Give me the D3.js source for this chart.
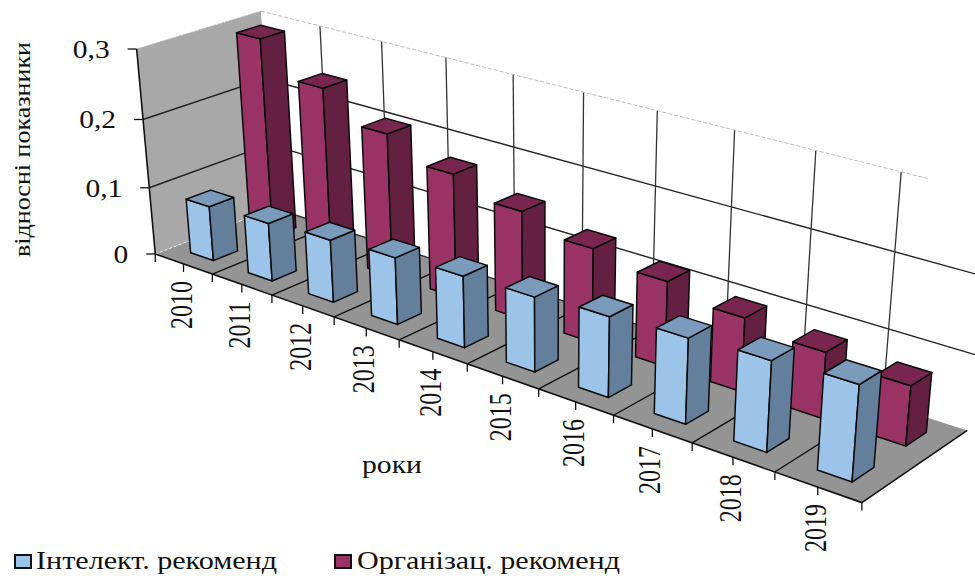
<!DOCTYPE html>
<html>
<head>
<meta charset="utf-8">
<script src="https://cdn.jsdelivr.net/npm/d3@7"></script>
<style>
  html, body { margin: 0; background: #fff; }
  text { font-family: "Liberation Serif", serif; fill: #111; }
</style>
</head>
<body>
<div id="chart"></div>
<script>
const years = [2010, 2011, 2012, 2013, 2014, 2015, 2016, 2017, 2018, 2019];
const seriesNames = ["Інтелект. рекоменд", "Організац. рекоменд"];
const intellect = [0.081, 0.085, 0.09, 0.095, 0.1, 0.103, 0.109, 0.114, 0.119, 0.124];
const organiz = [0.294, 0.247, 0.207, 0.177, 0.153, 0.131, 0.117, 0.1, 0.088, 0.079];
const yTicks = [0, 0.1, 0.2, 0.3];

const blue = { front: "#9cc3e8", side: "#647f9b", top: "#7b9bbd" };
const wine = { front: "#993366", side: "#632040", top: "#782650" };

// frame of the 3d box as seen in the picture: [category pos, depth, value, px, py]
const anchors = [
  [0, 0, 0, 157, 254], [1, 0, 0, 213, 275], [2, 0, 0, 273, 295], [3, 0, 0, 334, 316],
  [4, 0, 0, 400, 340], [5, 0, 0, 467, 364], [6, 0, 0, 538, 389], [7, 0, 0, 613, 417],
  [8, 0, 0, 692, 443], [9, 0, 0, 774, 472], [10, 0, 0, 862, 503],
  [0, 1, 0, 272, 209], [10, 1, 0, 968, 430],
  [0, 1, 0.3, 262, 11], [1, 1, 0.3, 321, 26], [2, 1, 0.3, 382, 42], [3, 1, 0.3, 446, 57],
  [4, 1, 0.3, 513, 75], [5, 1, 0.3, 583, 93], [6, 1, 0.3, 657, 112], [7, 1, 0.3, 734, 130],
  [8, 1, 0.3, 816, 151], [9, 1, 0.3, 901, 172],
  [0, 1, 0.2, 265, 79], [4, 1, 0.2, 513, 147], [5, 1, 0.2, 583, 166], [6, 1, 0.2, 656, 186],
  [7, 1, 0.2, 732, 207], [8, 1, 0.2, 812, 228], [9, 1, 0.2, 895, 252],
  [9, 1, 0.1, 888, 329], [8, 1, 0.1, 807, 301], [0, 1, 0.1, 268, 144],
  [0, 0, 0.1, 148, 187], [0, 0, 0.2, 144, 119], [0, 0, 0.3, 135, 48]
];

const width = 975, height = 576;

const x = d3.scaleBand().domain(years).range([0, 10]).paddingInner(0.6).paddingOuter(0.3);
const depth = d3.scaleBand().domain(seriesNames).range([0, 1]).paddingInner(0.6).paddingOuter(0.3);
const y = d3.scaleLinear().domain([0, 0.3]).range([0, 1]);

// fit the perspective matrix to the anchors (least squares)
function fitCamera(pts) {
  const rows = [], rhs = [];
  pts.forEach(([u, d, v, px, py]) => {
    const a = u / 10, b = d, c = y(v);
    rows.push([a, b, c, 1, 0, 0, 0, 0, -px * a, -px * b, -px * c]); rhs.push(px);
    rows.push([0, 0, 0, 0, a, b, c, 1, -py * a, -py * b, -py * c]); rhs.push(py);
  });
  const n = 11;
  const m = d3.range(n).map(i => d3.range(n + 1).map(j =>
    d3.sum(rows, (r, k) => r[i] * (j < n ? r[j] : rhs[k]))));
  for (let i = 0; i < n; i++) {
    let best = i;
    for (let k = i + 1; k < n; k++) if (Math.abs(m[k][i]) > Math.abs(m[best][i])) best = k;
    [m[i], m[best]] = [m[best], m[i]];
    for (let k = 0; k < n; k++) {
      if (k === i) continue;
      const f = m[k][i] / m[i][i];
      for (let j = i; j <= n; j++) m[k][j] -= f * m[i][j];
    }
  }
  return m.map((r, i) => r[n] / r[i]);
}
const cam = fitCamera(anchors);

function project(u, d, v) {
  const a = u / 10, b = d, c = y(v);
  const w = cam[8] * a + cam[9] * b + cam[10] * c + 1;
  return [(cam[0] * a + cam[1] * b + cam[2] * c + cam[3]) / w,
          (cam[4] * a + cam[5] * b + cam[6] * c + cam[7]) / w];
}

const svg = d3.select("#chart").append("svg")
  .attr("width", width).attr("height", height)
  .style("display", "block");

const poly = pts => pts.map(p => p.join(",")).join(" ");
const seg = (g, a, b, color, w) => g.append("line")
  .attr("x1", a[0]).attr("y1", a[1]).attr("x2", b[0]).attr("y2", b[1])
  .attr("stroke", color).attr("stroke-width", w);

// walls and floor
const walls = svg.append("g");
walls.append("polygon").attr("fill", "#a8a8a8")
  .attr("points", poly([project(0, 0, 0), project(0, 1, 0), project(0, 1, 0.3), project(0, 0, 0.3)]));
walls.append("polygon").attr("fill", "#949494")
  .attr("points", poly([project(0, 0, 0), project(10, 0, 0), project(10, 1, 0), project(0, 1, 0)]));

// grid
const grid = svg.append("g");
[0.1, 0.2].forEach(v => {
  seg(grid, project(0, 0, v), project(0, 1, v), "#222", 1.4);
  seg(grid, project(0, 1, v), project(10, 1, v), "#222", 1.4);
});
seg(grid, project(0, 1, 0), project(9, 1, 0), "#333", 1.4);
d3.range(1, 10).forEach(k => {
  seg(grid, project(k, 1, 0), project(k, 1, 0.3), "#333", 1.3);
  seg(grid, project(k, 0, 0), project(k, 1, 0), "#111", 1.4);
});
// top edges are very faint in the original
seg(grid, project(0, 0, 0.3), project(0, 1, 0.3), "#bbb", 1).attr("stroke-dasharray", "3 1");
seg(grid, project(0, 1, 0.3), project(9.3, 1, 0.3), "#bbb", 1).attr("stroke-dasharray", "4 2");
seg(grid, project(0, 0, 0), project(0, 1, 0), "#eee", 1).attr("stroke-dasharray", "3 2");

// axes
const axes = svg.append("g");
seg(axes, project(0, 0, 0), project(0, 0, 0.3), "#111", 1.6);
seg(axes, project(0, 0, 0), project(10, 0, 0), "#111", 1.6);
seg(axes, project(10, 0, 0), project(10, 1, 0), "#111", 1.6);
d3.range(0, 10.5, 0.5).forEach(k => {
  const p = project(k, 0, 0);
  seg(axes, p, [p[0], p[1] + 8], "#111", 1.3);
});
yTicks.forEach(t => {
  const p = project(0, 0, t);
  seg(axes, p, [p[0] - 9, p[1]], "#111", 1.3);
  axes.append("text")
    .attr("transform", `translate(${p[0] - 27},${p[1] + 9}) scale(1.18,1)`)
    .attr("text-anchor", "end")
    .attr("font-size", 25)
    .text(d3.format(".1f")(t).replace(".", ",").replace("0,0", "0"));
});
years.forEach(yr => {
  const p = project(x(yr) + x.bandwidth() / 2, 0, 0);
  axes.append("text")
    .attr("transform", `translate(${p[0] + 8},${p[1] + 17}) scale(1.28,1) rotate(-90)`)
    .attr("text-anchor", "end")
    .attr("font-size", 24)
    .text(yr);
});

// bars, back series first
function drawBar(g, u0, u1, d0, d1, v, c) {
  const faces = [
    [c.front, [[u0, d0, 0], [u1, d0, 0], [u1, d0, v], [u0, d0, v]]],
    [c.side, [[u1, d0, 0], [u1, d1, 0], [u1, d1, v], [u1, d0, v]]],
    [c.top, [[u0, d0, v], [u1, d0, v], [u1, d1, v], [u0, d1, v]]]
  ];
  g.selectAll("polygon").data(faces).join("polygon")
    .attr("points", f => poly(f[1].map(q => project(q[0], q[1], q[2]))))
    .attr("fill", f => f[0])
    .attr("stroke", "#0a0a0a")
    .attr("stroke-width", 1.5)
    .attr("stroke-linejoin", "round");
}
[[seriesNames[1], organiz, wine], [seriesNames[0], intellect, blue]].forEach(([name, values, col]) => {
  const g = svg.append("g");
  years.forEach((yr, i) => {
    drawBar(g.append("g"), x(yr), x(yr) + x.bandwidth(), depth(name), depth(name) + depth.bandwidth(), values[i], col);
  });
});

// titles
svg.append("text")
  .attr("transform", "translate(30,257) rotate(-90)")
  .attr("font-size", 24)
  .attr("textLength", 215).attr("lengthAdjust", "spacingAndGlyphs")
  .text("відносні показники");
svg.append("text")
  .attr("x", 362).attr("y", 473)
  .attr("font-size", 25)
  .attr("textLength", 60).attr("lengthAdjust", "spacingAndGlyphs")
  .text("роки");

// legend
const legend = svg.append("g");
[[14, 36, 241, blue], [334, 357, 263, wine]].forEach(([sx, tx, tw, c], i) => {
  legend.append("rect")
    .attr("x", sx + 1).attr("y", 555).attr("width", 16).attr("height", 13)
    .attr("fill", c.front).attr("stroke", "#111").attr("stroke-width", 2);
  legend.append("text")
    .attr("x", tx).attr("y", 569)
    .attr("font-size", 25)
    .attr("textLength", tw).attr("lengthAdjust", "spacingAndGlyphs")
    .text(seriesNames[i]);
});
</script>
</body>
</html>
